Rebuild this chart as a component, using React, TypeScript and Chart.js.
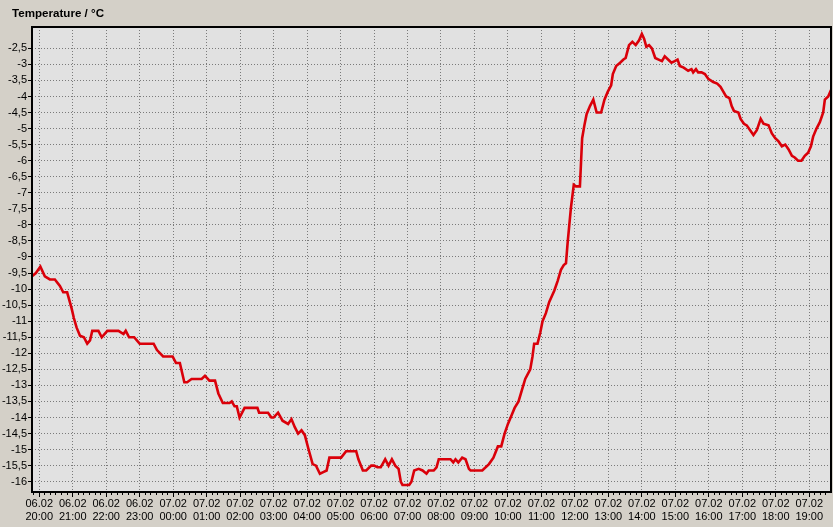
import { useEffect, useRef } from 'react';
import { Chart, registerables } from 'chart.js';

Chart.register(...registerables);

// minutes after 06.02 20:00
const minutes = [
  -13, -6, 2, 10, 19, 28, 37, 43, 50, 58, 62, 67, 73, 80, 86, 91, 95, 106, 112, 122,
  142, 151, 155, 161, 170, 180, 205, 211, 222, 239, 245, 252, 260, 265, 273, 291, 297,
  305, 315, 321, 329, 341, 345, 350, 354, 359, 368, 391, 394, 410, 416, 420, 428, 436,
  446, 452, 458, 464, 470, 476, 482, 490, 496, 503, 509, 515, 520, 541, 550, 568, 572,
  580, 586, 595, 600, 606, 612, 620, 626, 632, 638, 644, 648, 651, 663, 667, 672, 680,
  687, 694, 698, 707, 712, 716, 737, 742, 746, 751, 758, 764, 770, 773, 794, 806, 814,
  822, 828, 834, 840, 846, 852, 859, 865, 871, 880, 884, 887, 893, 898, 902, 908, 914,
  923, 929, 935, 940, 944, 947, 950, 953, 958, 962, 969, 971, 973, 977, 981, 987, 993,
  999, 1007, 1013, 1019, 1025, 1028, 1034, 1041, 1047, 1051, 1057, 1063, 1069, 1075,
  1080, 1084, 1088, 1093, 1098, 1104, 1110, 1116, 1121, 1127, 1133, 1139, 1144, 1148,
  1155, 1163, 1169, 1172, 1177, 1181, 1187, 1193, 1199, 1208, 1215, 1221, 1226, 1231,
  1237, 1241, 1245, 1253, 1257, 1263, 1268, 1274, 1280, 1286, 1293, 1298, 1307, 1313,
  1319, 1325, 1331, 1337, 1343, 1349, 1354, 1360, 1366, 1372, 1378, 1383, 1387, 1393,
  1399, 1405, 1408, 1414, 1419,
];

const temperatures = [
  -9.6, -9.5, -9.3, -9.6, -9.7, -9.7, -9.9, -10.1, -10.1, -10.6, -10.9, -11.2, -11.45, -11.5,
  -11.7, -11.6, -11.3, -11.3, -11.5, -11.3, -11.3, -11.4, -11.3, -11.5, -11.5, -11.7, -11.7,
  -11.9, -12.1, -12.1, -12.3, -12.3, -12.9, -12.9, -12.8, -12.8, -12.7, -12.85, -12.85,
  -13.25, -13.55, -13.55, -13.5, -13.65, -13.65, -14.0, -13.7, -13.7, -13.85, -13.85, -14.0,
  -14.0, -13.85, -14.1, -14.2, -14.05, -14.3, -14.5, -14.4, -14.55, -14.95, -15.45, -15.5,
  -15.75, -15.7, -15.65, -15.25, -15.25, -15.05, -15.05, -15.3, -15.65, -15.65, -15.5, -15.5,
  -15.55, -15.55, -15.3, -15.5, -15.3, -15.5, -15.6, -16.0, -16.1, -16.1, -16.0, -15.65,
  -15.6, -15.65, -15.75, -15.65, -15.65, -15.55, -15.3, -15.3, -15.4, -15.3, -15.4, -15.25,
  -15.3, -15.6, -15.65, -15.65, -15.45, -15.25, -14.9, -14.9, -14.5, -14.2, -13.95, -13.7,
  -13.5, -13.15, -12.8, -12.5, -12.1, -11.7, -11.7, -11.35, -11.0, -10.75, -10.4, -10.05,
  -9.75, -9.4, -9.25, -9.2, -8.55, -8.0, -7.45, -6.75, -6.8, -6.8, -6.05, -5.3, -4.9, -4.55,
  -4.3, -4.1, -4.5, -4.5, -4.1, -3.85, -3.65, -3.3, -3.05, -2.95, -2.85, -2.8, -2.4, -2.3,
  -2.4, -2.25, -2.05, -2.2, -2.45, -2.4, -2.5, -2.8, -2.85, -2.9, -2.75, -2.85, -2.95, -2.9,
  -2.85, -3.05, -3.1, -3.2, -3.15, -3.25, -3.15, -3.25, -3.25, -3.3, -3.45, -3.55, -3.6,
  -3.7, -3.85, -4.0, -4.05, -4.3, -4.45, -4.5, -4.7, -4.85, -4.9, -5.05, -5.2, -5.05, -4.7,
  -4.85, -4.9, -5.15, -5.3, -5.4, -5.55, -5.5, -5.65, -5.85, -5.9, -6.0, -6.0, -5.85, -5.75,
  -5.55, -5.25, -5.0, -4.8, -4.5, -4.1, -4.0, -3.8,
];

const hourTicks = [
  0, 60, 120, 180, 240, 300, 360, 420, 480, 540, 600, 660, 720, 780, 840, 900, 960, 1020,
  1080, 1140, 1200, 1260, 1320, 1380,
];
const dateLabels = [
  '06.02', '06.02', '06.02', '06.02', '07.02', '07.02', '07.02', '07.02', '07.02', '07.02',
  '07.02', '07.02', '07.02', '07.02', '07.02', '07.02', '07.02', '07.02', '07.02', '07.02',
  '07.02', '07.02', '07.02', '07.02',
];
const timeLabels = [
  '20:00', '21:00', '22:00', '23:00', '00:00', '01:00', '02:00', '03:00', '04:00', '05:00',
  '06:00', '07:00', '08:00', '09:00', '10:00', '11:00', '12:00', '13:00', '14:00', '15:00',
  '16:00', '17:00', '18:00', '19:00',
];
const yTicks = [
  -16, -15.5, -15, -14.5, -14, -13.5, -13, -12.5, -12, -11.5, -11, -10.5, -10, -9.5, -9,
  -8.5, -8, -7.5, -7, -6.5, -6, -5.5, -5, -4.5, -4, -3.5, -3, -2.5,
];

const TITLE = 'Temperature / °C';

const X_MIN = -13;
const X_MAX = 1419;
const Y_MIN = -16.32;
const Y_MAX = -1.836;

const FONT = 'Liberation Sans, Arial, sans-serif';

const plotFrame = {
  id: 'plotFrame',
  beforeDraw(chart: any) {
    const { ctx, chartArea } = chart;
    ctx.save();
    ctx.fillStyle = '#e1e1e1';
    ctx.fillRect(chartArea.left, chartArea.top, chartArea.width, chartArea.height);
    ctx.restore();
  },
  afterDraw(chart: any) {
    const { ctx, chartArea } = chart;
    ctx.save();
    ctx.strokeStyle = '#000';
    ctx.lineWidth = 2;
    ctx.strokeRect(chartArea.left, chartArea.top, chartArea.width, chartArea.height);
    ctx.restore();
  },
};

export default function App() {
  const ref = useRef<HTMLCanvasElement | null>(null);

  useEffect(() => {
    if (!ref.current) return;
    const chart = new Chart(ref.current, {
      type: 'line',
      data: {
        datasets: [
          {
            data: minutes.map((m, i) => ({ x: m, y: temperatures[i] })),
            borderColor: 'rgb(218,0,10)',
            borderWidth: 2.6,
            pointRadius: 0,
            tension: 0,
            fill: false,
          },
        ],
      },
      options: {
        animation: false,
        responsive: false,
        events: [],
        layout: { padding: { left: 0, right: 2, top: 27, bottom: 0 } },
        plugins: {
          legend: { display: false },
          tooltip: { enabled: false },
          title: { display: false },
        },
        scales: {
          x2: {
            type: 'linear',
            position: 'bottom',
            weight: 0,
            min: X_MIN,
            max: X_MAX,
            ticks: { display: false, stepSize: 10, includeBounds: false },
            grid: { drawOnChartArea: false, drawTicks: true, tickLength: 3, tickColor: '#000' },
            border: { display: false },
            afterFit(scale: any) {
              scale.height = 0;
            },
          },
          x: {
            type: 'linear',
            position: 'bottom',
            weight: 1,
            min: X_MIN,
            max: X_MAX,
            afterBuildTicks(scale: any) {
              scale.ticks = hourTicks.map((v) => ({ value: v }));
            },
            afterFit(scale: any) {
              scale.height = 35;
            },
            ticks: {
              autoSkip: false,
              maxRotation: 0,
              padding: 0,
              color: '#000',
              font: { family: FONT, size: 11 },
              callback: (_v: any, i: number) => [dateLabels[i], timeLabels[i]],
            },
            grid: {
              color: '#7a7a7a',
              lineWidth: 1,
              tickLength: 5,
              tickColor: '#000',
            },
            border: { display: false, dash: [1, 2] },
          },
          y: {
            type: 'linear',
            min: Y_MIN,
            max: Y_MAX,
            afterBuildTicks(scale: any) {
              scale.ticks = yTicks.map((v) => ({ value: v }));
            },
            afterFit(scale: any) {
              scale.width = 32;
            },
            ticks: {
              padding: 1,
              color: '#000',
              font: { family: FONT, size: 11 },
              callback: (v: any) => String(v).replace('.', ','),
            },
            grid: {
              color: '#7a7a7a',
              lineWidth: 1,
              tickLength: 4,
              tickColor: '#000',
            },
            border: { display: false, dash: [1, 2] },
          },
        },
      },
      plugins: [plotFrame],
    });
    return () => chart.destroy();
  }, []);

  return (
    <div
      style={{
        position: 'fixed',
        left: 0,
        top: 0,
        width: 833,
        height: 527,
        background: '#d4d0c8',
      }}
    >
      <canvas ref={ref} width={833} height={527} style={{ display: 'block', width: 833, height: 527 }} />
      <div
        style={{
          position: 'absolute',
          left: 12,
          top: 6,
          font: `bold 11.6px ${FONT}`,
          lineHeight: '14px',
          color: '#000',
          whiteSpace: 'nowrap',
        }}
      >
        {TITLE}
      </div>
    </div>
  );
}
